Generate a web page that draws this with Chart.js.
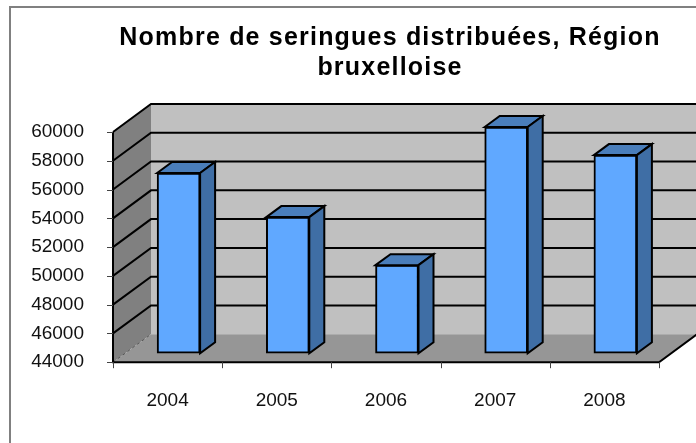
<!DOCTYPE html>
<html>
<head>
<meta charset="utf-8">
<style>
  html, body { margin: 0; padding: 0; background: #fff; }
  #wrap { position: relative; width: 696px; height: 443px; overflow: hidden; }
</style>
<script src="https://cdn.jsdelivr.net/npm/chart.js@4"></script>
</head>
<body>
<div id="wrap"><canvas id="seringuesChart" width="696" height="443"></canvas></div>
<script>
const years = ["2004", "2005", "2006", "2007", "2008"];
const seringues = [56520, 53460, 50120, 59720, 57770];
const yTicks = [44000, 46000, 48000, 50000, 52000, 54000, 56000, 58000, 60000];
const titleLines = ["Nombre de seringues distribuées, Région", "bruxelloise"];

// pseudo 3D offsets
const wallDx = 38, wallDy = 28;   // back wall
const barDx = 11, barDy = 9;      // front plane of the bars
const sideDx = 15, sideDy = 11;   // depth of a bar

function poly(ctx, pts, fill, stroke, lw) {
  ctx.beginPath();
  pts.forEach((p, i) => (i ? ctx.lineTo(p[0], p[1]) : ctx.moveTo(p[0], p[1])));
  ctx.closePath();
  if (fill) { ctx.fillStyle = fill; ctx.fill(); }
  if (stroke) { ctx.strokeStyle = stroke; ctx.lineWidth = lw; ctx.stroke(); }
}

const box3d = {
  id: "box3d",
  beforeDatasetsDraw(chart) {
    const { ctx, chartArea: a, scales: { x, y } } = chart;
    ctx.save();
    // outer frame
    ctx.strokeStyle = "#808080";
    ctx.lineWidth = 2;
    ctx.beginPath();
    ctx.moveTo(10, 443);
    ctx.lineTo(10, 7);
    ctx.lineTo(696, 7);
    ctx.stroke();
    // title
    ctx.fillStyle = "#000";
    ctx.font = "bold 25px 'Liberation Sans'";
    ctx.textAlign = "center";
    ctx.letterSpacing = "1.2px";
    ctx.fillText(titleLines[0], 390, 45);
    ctx.fillText(titleLines[1], 390, 75);
    ctx.letterSpacing = "0px";
    // back wall, side wall, floor
    poly(ctx, [[a.left + wallDx, a.top - wallDy], [696 + 30, a.top - wallDy], [696 + 30, a.bottom - wallDy], [a.left + wallDx, a.bottom - wallDy]], "#c0c0c0");
    poly(ctx, [[a.left, a.top], [a.left + wallDx, a.top - wallDy], [a.left + wallDx, a.bottom - wallDy], [a.left, a.bottom]], "#808080");
    poly(ctx, [[a.left, a.bottom], [a.left + wallDx, a.bottom - wallDy], [a.right + wallDx, a.bottom - wallDy], [a.right, a.bottom]], "#969696");
    // gridlines across side and back wall
    ctx.strokeStyle = "#000";
    ctx.lineWidth = 2;
    yTicks.forEach((t) => {
      if (t === yTicks[0]) return;
      const py = y.getPixelForValue(t);
      ctx.beginPath();
      ctx.moveTo(a.left, py);
      ctx.lineTo(a.left + wallDx, py - wallDy);
      ctx.lineTo(696 + 30, py - wallDy);
      ctx.stroke();
    });
    // dashed edge in the floor corner
    ctx.lineWidth = 1;
    ctx.setLineDash([3, 3]);
    ctx.strokeStyle = "#555";
    ctx.beginPath();
    ctx.moveTo(a.left, a.bottom);
    ctx.lineTo(a.left + wallDx, a.bottom - wallDy);
    ctx.stroke();
    ctx.setLineDash([]);
    // axes
    ctx.strokeStyle = "#000";
    ctx.lineWidth = 2;
    ctx.beginPath();
    ctx.moveTo(a.left, a.top);
    ctx.lineTo(a.left, a.bottom);
    ctx.lineTo(a.right, a.bottom);
    ctx.lineTo(a.right + wallDx, a.bottom - wallDy);
    ctx.stroke();
    // tick marks
    ctx.strokeStyle = "#444";
    ctx.lineWidth = 1;
    ctx.beginPath();
    yTicks.forEach((t) => {
      const py = Math.round(y.getPixelForValue(t)) + 0.5;
      ctx.moveTo(a.left - 6, py);
      ctx.lineTo(a.left, py);
    });
    for (let i = 0; i <= years.length; i++) {
      const px = Math.round(x.left + (i * x.width) / years.length) + 0.5;
      ctx.moveTo(px, a.bottom);
      ctx.lineTo(px, a.bottom + 6);
    }
    ctx.stroke();
    ctx.restore();
    // the bars sit a little behind the front plane
    ctx.save();
    ctx.translate(barDx, -barDy);
  },
  afterDatasetsDraw(chart) {
    const ctx = chart.ctx;
    chart.getDatasetMeta(0).data.forEach((bar) => {
      const l = bar.x - bar.width / 2, r = bar.x + bar.width / 2;
      const t = bar.y, b = bar.base;
      poly(ctx, [[l, t], [l + sideDx, t - sideDy], [r + sideDx, t - sideDy], [r, t]], "#4a7ebb", "#000", 2);
      poly(ctx, [[r, t], [r + sideDx, t - sideDy], [r + sideDx, b - sideDy], [r, b]], "#3f6ea5", "#000", 2);
    });
    ctx.restore();
  },
};

new Chart(document.getElementById("seringuesChart"), {
  type: "bar",
  data: {
    labels: years,
    datasets: [
      {
        label: "Seringues",
        data: seringues,
        base: yTicks[0],
        backgroundColor: "#60a8ff",
        borderColor: "#000",
        borderWidth: 2,
        borderSkipped: false,
        barThickness: 43,
        clip: false,
      },
    ],
  },
  options: {
    responsive: false,
    animation: false,
    layout: { padding: { top: 132, left: 0, right: 37, bottom: 12 } },
    plugins: {
      legend: { display: false },
      tooltip: { enabled: false },
    },
    scales: {
      x: {
        grid: { display: false, tickLength: 8 },
        border: { display: false },
        ticks: { color: "#111", font: { family: "Liberation Sans", size: 19 }, padding: 19, maxRotation: 0 },
      },
      y: {
        min: 44000,
        max: 60000,
        afterFit(scale) { scale.width = 113; },
        grid: { display: false, tickLength: 6 },
        border: { display: false },
        ticks: {
          stepSize: 2000,
          color: "#111",
          font: { family: "Liberation Sans", size: 19 },
          padding: 23,
          callback: (v) => String(v),
        },
      },
    },
  },
  plugins: [box3d],
});
</script>
</body>
</html>
